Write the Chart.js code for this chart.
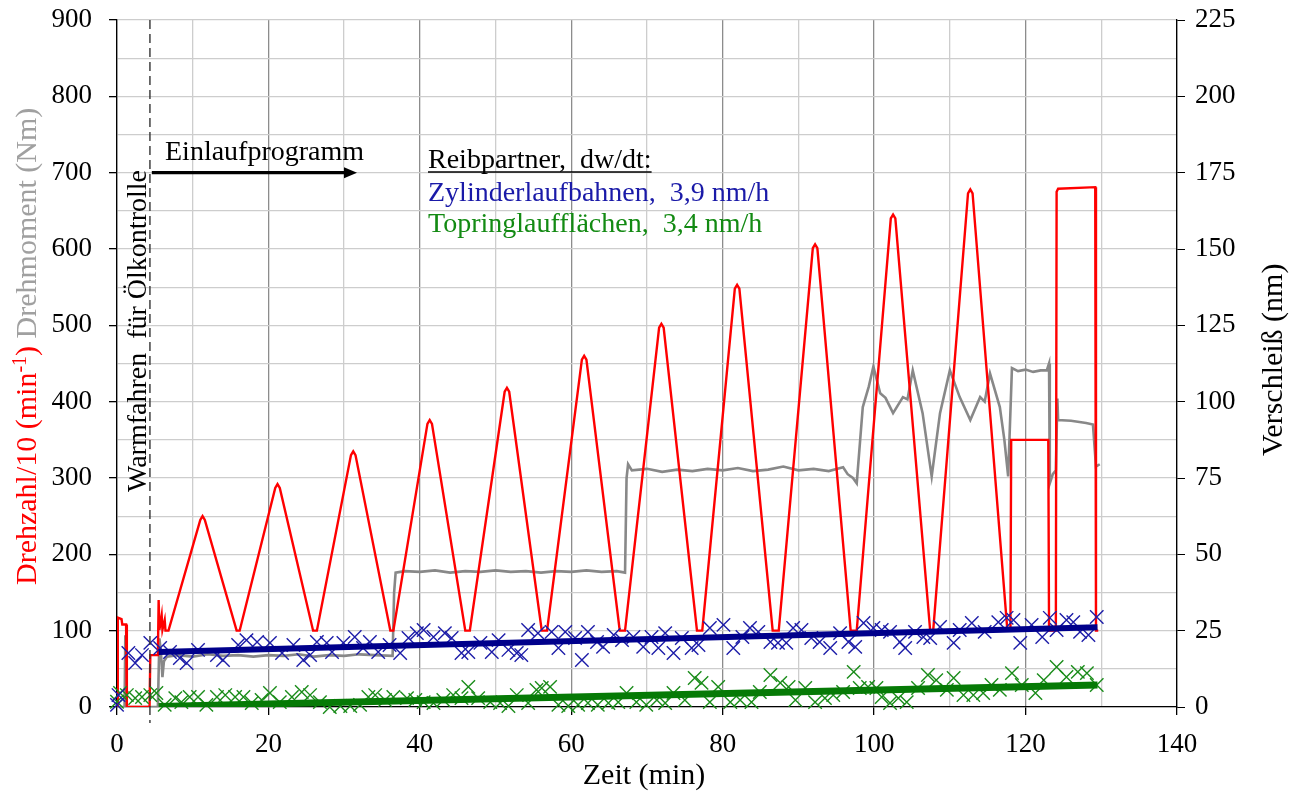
<!DOCTYPE html>
<html>
<head>
<meta charset="utf-8">
<script src="https://cdn.jsdelivr.net/npm/chart.js@4.4.1/dist/chart.umd.min.js"></script>
<style>
  html, body { margin: 0; padding: 0; background: #fff; }
  #wrap { width: 1298px; height: 796px; }
</style>
</head>
<body>
<div id="wrap"><canvas id="chart" width="1298" height="796"></canvas></div>
<script>
// Drehzahl/10 in min^-1, [Zeit (min), Wert]
const drehzahl = [
  [0, 0], [0.1, 117], [0.6, 115], [0.7, 108], [1.2, 108], [1.3, 0], [4.3, 0], [4.4, 68], [5.4, 68],
  [5.5, 140], [5.6, 101], [5.9, 120], [6.0, 101], [6.3, 114], [6.4, 100], [6.8, 100],
  [11.0, 245], [11.3, 250], [11.6, 245], [15.8, 100], [16.2, 100],
  [20.9, 287], [21.2, 292], [21.5, 287], [25.9, 100], [26.4, 100],
  [30.9, 330], [31.2, 335], [31.5, 330], [36.1, 100], [36.5, 100],
  [41.0, 371], [41.3, 376], [41.6, 371], [46.0, 100], [46.6, 100],
  [51.2, 413], [51.5, 418], [51.8, 413], [56.1, 100], [56.8, 100],
  [61.4, 455], [61.7, 460], [62.0, 455], [66.4, 100], [67.1, 100],
  [71.6, 497], [71.9, 502], [72.2, 497], [76.6, 100], [77.3, 100],
  [81.6, 548], [81.9, 553], [82.2, 548], [86.6, 100], [87.4, 100],
  [91.9, 601], [92.2, 606], [92.5, 601], [96.9, 100], [97.7, 100],
  [102.2, 640], [102.5, 645], [102.8, 640], [107.4, 100], [107.8, 100],
  [112.4, 673], [112.7, 678], [113.0, 673], [117.6, 100], [118.0, 100],
  [118.1, 350], [123.0, 350], [123.1, 100], [124.0, 100], [124.1, 675], [124.3, 679],
  [129.2, 681], [129.3, 100], [129.6, 100]
];

// Drehmoment in Nm
const drehmoment = [
  [0, 0], [1.0, 0], [1.1, 94], [1.2, 0], [5.4, 0], [5.6, 90], [5.8, 72], [6.0, 39], [6.2, 60], [6.6, 66],
  [8, 68], [10, 66], [12, 69], [14, 67], [16, 68], [18, 66], [20, 68], [22, 67], [24, 69], [26, 66],
  [28, 68], [30, 67], [32, 69], [34, 68], [36.4, 67], [36.6, 150], [36.8, 176], [38, 178], [40, 177],
  [42, 179], [44, 176], [46, 178], [48, 177], [50, 179], [52, 177], [54, 178], [56, 176], [58, 178],
  [60, 177], [62, 179], [64, 177], [66, 178], [67.1, 176], [67.3, 300], [67.5, 318], [68, 310],
  [70, 312], [72, 308], [74, 311], [76, 309], [78, 312], [80, 310], [82, 313], [84, 309], [86, 311],
  [88, 315], [90, 310], [92, 312], [94, 309], [95.9, 314], [96.5, 305], [97.2, 300], [97.7, 293],
  [98.5, 393], [99.3, 420], [99.9, 446], [100.8, 411], [101.5, 405], [102.5, 385], [103.8, 406],
  [104.4, 403], [105.1, 441], [106.4, 385], [107.6, 302], [108.7, 385], [110, 441], [111.3, 406],
  [112.7, 376], [114, 406], [114.6, 400], [115.3, 437], [116.6, 393], [117.2, 350], [117.7, 302],
  [118.2, 444], [119, 440], [120, 442], [121, 439], [122, 441], [122.8, 441], [123.1, 450],
  [123.2, 293], [123.6, 305], [124.0, 310], [124.2, 404], [124.3, 376], [126, 375], [128, 372],
  [128.9, 370], [129.3, 315], [129.8, 318]
];

// Verschleiß Zylinderlaufbahnen in nm
const zylinder = [
  [0, 0.7], [0.2, 3.9], [1.5, 17.7], [2.4, 14.4], [3.3, 17], [4.4, 21], [5.7, 19.3], [7, 18], [8.3, 16],
  [9.2, 14.4], [10.7, 18.7], [13.2, 17], [14, 15.4], [16, 20.3], [17.1, 21.9], [18.5, 21.3], [20.2, 21],
  [21.8, 17.7], [23.3, 20.3], [24.6, 15.4], [25.5, 17], [26.4, 21.3], [27.7, 21], [28.4, 18], [29.9, 21],
  [31.4, 22.9], [32.5, 19.3], [33.4, 21.3], [34.5, 18], [36, 20.3], [37.4, 17.7], [38.5, 22.6],
  [39.6, 24.2], [40.5, 25.2], [41.8, 22.9], [43.3, 24.2], [44.2, 22.6], [45.5, 17.7], [46.4, 18],
  [48, 21], [49.5, 18], [50.4, 21.9], [51.7, 18.7], [52.8, 17.7], [53.4, 17], [54.3, 25.2], [55.6, 24.2],
  [57.4, 24.6], [58.3, 19.3], [59.2, 24.6], [60.5, 22.6], [61.4, 15.4], [62.2, 24.6], [63.4, 21.3],
  [64.2, 19.7], [65.6, 23.6], [66.7, 21.9], [68.2, 22.9], [69.5, 19.7], [70.6, 22.9], [71.5, 19.3],
  [72.4, 24.2], [73.5, 17.7], [74.6, 22.6], [75.9, 19.3], [76.8, 20.3], [78.3, 25.9], [80.1, 26.9],
  [81.4, 19.3], [82.6, 22.9], [83.6, 25.9], [84.7, 24.6], [86.3, 21.3], [87.3, 21], [88.4, 21],
  [89.3, 25.9], [90.4, 25.2], [91.7, 22.6], [92.8, 21.3], [94.2, 19.3], [95.5, 24.2], [96.6, 21.3],
  [97.5, 19.7], [98.6, 27.5], [99.9, 25.9], [101, 25.2], [102.1, 24.6], [103.4, 21.3], [104.1, 19.3],
  [105.4, 24.6], [106.5, 22.9], [107.4, 22.6], [108.7, 26.2], [110.5, 21], [111.3, 25.2], [112.9, 27.5],
  [114.6, 24.6], [116.4, 27.8], [117.5, 29.2], [118.4, 28.5], [119.3, 21], [120.8, 26.9], [122.2, 22.9],
  [123.2, 29.2], [124.1, 25.2], [125.4, 28.5], [126.3, 27.8], [127.2, 24.6], [128.3, 23.6], [129.4, 29.5]
];

// Verschleiß Topringlaufflächen in nm
const topring = [
  [0, 1.7], [0.4, 4.6], [1.3, 3.9], [2.4, 2.9], [3.3, 3.3], [4.4, 3.9], [5.2, 4.6], [6.3, 0.7], [7.7, 2.9],
  [8.5, 1.6], [9.6, 3.3], [10.7, 3.3], [11.8, 0.7], [13.2, 3.3], [14.3, 3.9], [15.6, 3.3], [16.7, 3.3],
  [17.8, 1.3], [19.1, 2.3], [20.2, 4.6], [21.5, 1.6], [23.1, 3.3], [24.4, 4.9], [25.5, 3.9], [26.8, 1.6],
  [28.1, 0], [29.5, 0.3], [30.8, 0.3], [32.1, 0.7], [33.2, 3.3], [34.1, 3.9], [35.4, 2.3], [36.5, 3.3],
  [38.3, 2.9], [39.4, 2.3], [40.5, 1.6], [41.8, 1.3], [43.1, 2.3], [44.4, 3.9], [45.5, 2.9], [46.4, 6.6],
  [47.7, 2.9], [49.3, 1.6], [50.6, 1.3], [51.7, 0.3], [52.8, 3.9], [54.3, 1.3], [55.4, 5.6], [56.1, 6.2],
  [57.2, 6.6], [58.3, 0.7], [59.6, 0.3], [60.9, 0.7], [62.2, 1.3], [63.5, 0.7], [64.9, 1.3], [66.2, 1.6],
  [67.3, 4.6], [68.6, 1.6], [69.9, 0.7], [71.3, 2.3], [72.4, 1.3], [73.5, 4.6], [75, 2.3], [76.3, 9.5],
  [77.2, 7.9], [78.3, 1.6], [79.4, 6.6], [81, 1.6], [82.3, 2.3], [83.8, 1.6], [84.9, 4.9], [86.3, 10.5],
  [87.6, 7.9], [88.7, 6.6], [89.6, 2.3], [90.9, 6.2], [92.2, 1.6], [93.5, 2.9], [94.6, 3.9], [95.9, 4.9],
  [97.3, 11.5], [98.1, 6.2], [99.2, 6.6], [100.3, 6.2], [101, 3.3], [102.1, 1.3], [103.2, 2.9],
  [104.3, 1.6], [105.8, 6.2], [107.1, 10.5], [108.2, 8.8], [109.6, 5.6], [110.5, 9.5], [111.8, 3.9],
  [113.1, 3.9], [114.4, 4.6], [115.5, 7.2], [116.6, 5.6], [118.2, 11.1], [119.5, 7.2], [121.3, 4.6],
  [122.4, 8.8], [124.1, 13.1], [125.4, 9.8], [126.9, 11.5], [128.1, 11.1], [129.4, 7.2]
];

// Ausgleichsgeraden (3,9 nm/h bzw. 3,4 nm/h)
const zylinderTrend = [[5.5, 18.0], [129.5, 26.1]];
const topringTrend = [[5.5, 0.2], [129.5, 7.2]];

const xTicks = [0, 20, 40, 60, 80, 100, 120, 140];

const SERIF = "'Liberation Serif', 'Times New Roman', serif";
const TICK_SIZE = 27;
const TEXT_SIZE = 28;
const TITLE_SIZE = 30;
const RED = '#ff0000';
const GRAY = '#888888';
const BLUE = '#1c1ca8';
const BLUE_LINE = '#00008b';
const GREEN = '#1a8c1a';
const GREEN_LINE = '#067a06';

const pts = (arr) => arr.map(([x, y]) => ({ x, y }));

function rotatedText(ctx, x, y, pieces) {
  // draws text pieces bottom-to-top, starting at (x, y) on the baseline
  ctx.save();
  ctx.translate(x, y);
  ctx.rotate(-Math.PI / 2);
  ctx.textAlign = 'left';
  ctx.textBaseline = 'alphabetic';
  let pos = 0;
  for (const p of pieces) {
    ctx.font = p.font;
    ctx.fillStyle = p.color;
    ctx.fillText(p.text, pos, p.dy || 0);
    pos += ctx.measureText(p.text).width;
  }
  ctx.restore();
}

// fixed box sizes so the plot area sits at 117..1177 x 20..707
function fixVertical(width) {
  return (s) => {
    s.width = width;
    s.paddingTop = 0;
    s.paddingBottom = 0;
  };
}

const annotations = {
  id: 'annotations',
  afterDraw(chart) {
    const { ctx, chartArea, scales } = chart;
    const x = scales.x, y = scales.y;
    const font = `${TEXT_SIZE}px ${SERIF}`;
    const titleFont = `${TITLE_SIZE}px ${SERIF}`;

    // Ende der Warmlaufphase
    const xw = x.getPixelForValue(4.35);
    ctx.save();
    ctx.strokeStyle = '#333333';
    ctx.lineWidth = 1.4;
    ctx.setLineDash([9, 5]);
    ctx.beginPath();
    ctx.moveTo(xw, chartArea.top);
    ctx.lineTo(xw, chartArea.bottom + 16);
    ctx.stroke();
    ctx.restore();

    // Pfeil Einlaufprogramm
    const ya = y.getPixelForValue(700);
    const x1 = x.getPixelForValue(4.6);
    const x2 = x.getPixelForValue(31.7);
    ctx.save();
    ctx.strokeStyle = '#000';
    ctx.fillStyle = '#000';
    ctx.lineWidth = 3.3;
    ctx.beginPath();
    ctx.moveTo(x1, ya);
    ctx.lineTo(x2 - 10, ya);
    ctx.stroke();
    ctx.beginPath();
    ctx.moveTo(x2, ya);
    ctx.lineTo(x2 - 13, ya - 5.5);
    ctx.lineTo(x2 - 13, ya + 5.5);
    ctx.closePath();
    ctx.fill();

    ctx.font = font;
    ctx.textAlign = 'left';
    ctx.textBaseline = 'alphabetic';
    ctx.fillText('Einlaufprogramm', 165, 160);

    // Legende
    ctx.fillStyle = '#000';
    ctx.fillText('Reibpartner,  dw/dt:', 428, 168);
    const w = ctx.measureText('Reibpartner,  dw/dt:').width;
    ctx.lineWidth = 1.3;
    ctx.beginPath();
    ctx.moveTo(428, 172);
    ctx.lineTo(428 + w, 172);
    ctx.stroke();
    ctx.fillStyle = '#1a1aa8';
    ctx.fillText('Zylinderlaufbahnen,  3,9 nm/h', 428, 201);
    ctx.fillStyle = '#138a13';
    ctx.fillText('Topringlaufflächen,  3,4 nm/h', 428, 232);

    // x-Achsentitel
    ctx.font = titleFont;
    ctx.fillStyle = '#000';
    ctx.textAlign = 'center';
    ctx.textBaseline = 'middle';
    ctx.fillText('Zeit (min)', (chartArea.left + chartArea.right) / 2 - 3, 776);
    ctx.restore();

    rotatedText(ctx, 146, 492, [{ text: 'Warmfahren  für Ölkontrolle', font, color: '#000' }]);

    const small = `${Math.round(TITLE_SIZE * 0.66)}px ${SERIF}`;
    rotatedText(ctx, 36, 585, [
      { text: 'Drehzahl/10 (min', font: titleFont, color: RED },
      { text: '-1', font: small, color: RED, dy: -10 },
      { text: ') ', font: titleFont, color: RED },
      { text: 'Drehmoment (Nm)', font: titleFont, color: '#a0a0a0' }
    ]);

    rotatedText(ctx, 1282, 456, [{ text: 'Verschleiß (nm)', font: titleFont, color: '#000' }]);
  }
};

const chart = new Chart(document.getElementById('chart'), {
  type: 'line',
  data: {
    datasets: [
      {
        label: 'Zylinderlaufbahnen Trend',
        data: pts(zylinderTrend),
        yAxisID: 'y2',
        borderColor: BLUE_LINE,
        borderWidth: 6,
        pointRadius: 0,
        order: 0
      },
      {
        label: 'Topringlaufflächen Trend',
        data: pts(topringTrend),
        yAxisID: 'y2',
        borderColor: GREEN_LINE,
        borderWidth: 7,
        pointRadius: 0,
        order: 0
      },
      {
        label: 'Zylinderlaufbahnen',
        data: pts(zylinder),
        yAxisID: 'y2',
        showLine: false,
        pointStyle: 'crossRot',
        pointRadius: 9.5,
        pointBorderWidth: 1.4,
        borderColor: BLUE,
        backgroundColor: BLUE,
        clip: false,
        order: 1
      },
      {
        label: 'Topringlaufflächen',
        data: pts(topring),
        yAxisID: 'y2',
        showLine: false,
        pointStyle: 'crossRot',
        pointRadius: 9.5,
        pointBorderWidth: 1.4,
        borderColor: GREEN,
        backgroundColor: GREEN,
        clip: false,
        order: 2
      },
      {
        label: 'Drehzahl/10',
        data: pts(drehzahl),
        yAxisID: 'y',
        borderColor: RED,
        borderWidth: 2.4,
        pointRadius: 0,
        tension: 0,
        order: 3
      },
      {
        label: 'Drehmoment',
        data: pts(drehmoment),
        yAxisID: 'y',
        borderColor: GRAY,
        borderWidth: 2.6,
        pointRadius: 0,
        tension: 0,
        order: 4
      }
    ]
  },
  options: {
    responsive: false,
    animation: false,
    layout: { padding: { top: 20, left: 0, right: 0, bottom: 0 } },
    plugins: {
      legend: { display: false },
      tooltip: { enabled: false }
    },
    scales: {
      x: {
        type: 'linear',
        min: 0,
        max: 140,
        afterFit: (s) => {
          s.height = 89;
          s.paddingLeft = 0;
          s.paddingRight = 0;
        },
        ticks: {
          stepSize: 10,
          autoSkip: false,
          maxRotation: 0,
          padding: 14,
          color: '#000',
          font: { family: SERIF, size: TICK_SIZE },
          callback: (v) => xTicks.includes(v) ? v : ''
        },
        grid: {
          color: (c) => c.tick && c.tick.value % 20 === 0 ? '#8c8c8c' : '#cdcdcd',
          lineWidth: 1.3,
          tickLength: 8,
          tickColor: (c) => c.tick && c.tick.value % 20 === 0 ? '#000' : 'rgba(0,0,0,0)'
        },
        border: { color: '#000', width: 1.3 }
      },
      y: {
        position: 'left',
        min: 0,
        max: 900,
        afterFit: fixVertical(117),
        ticks: {
          stepSize: 50,
          padding: 17,
          color: '#000',
          font: { family: SERIF, size: TICK_SIZE },
          callback: (v) => v % 100 === 0 ? v : ''
        },
        grid: {
          color: '#cdcdcd',
          lineWidth: 1.3,
          tickLength: 8,
          tickColor: (c) => c.tick && c.tick.value % 100 === 0 ? '#000' : 'rgba(0,0,0,0)'
        },
        border: { color: '#000', width: 1.3 }
      },
      y2: {
        position: 'right',
        min: 0,
        max: 225,
        afterFit: fixVertical(121),
        ticks: {
          stepSize: 25,
          padding: 10,
          color: '#000',
          font: { family: SERIF, size: TICK_SIZE }
        },
        grid: {
          drawOnChartArea: false,
          tickLength: 8,
          tickColor: '#000'
        },
        border: { color: '#000', width: 1.3 }
      }
    }
  },
  plugins: [annotations]
});
</script>
</body>
</html>
